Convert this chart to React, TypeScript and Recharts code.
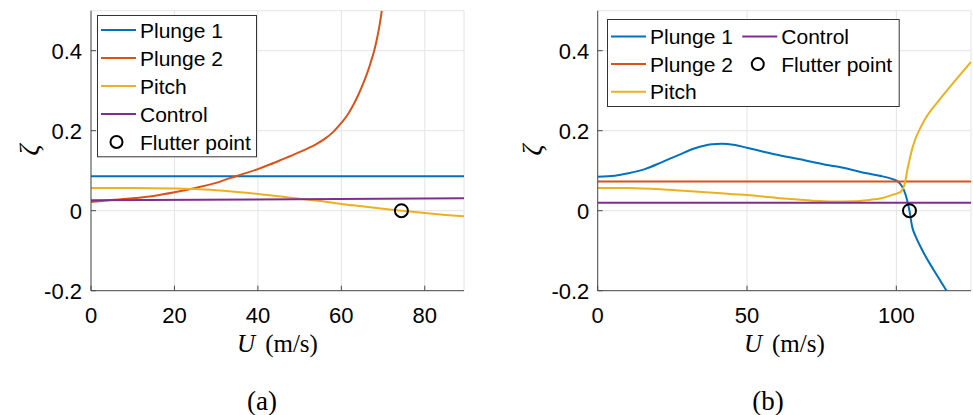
import React from "react";
import {
  ComposedChart,
  Line,
  Scatter,
  XAxis,
  YAxis,
  CartesianGrid,
} from "recharts";

type Pt = [number, number];

// panel (a): damping ratio vs airspeed
const plunge1A: Pt[] = [[0, 0.086], [89.4, 0.086]];
const plunge2A: Pt[] = [
  [0, 0.022], [5, 0.0265], [10, 0.031], [15, 0.037], [20, 0.046], [25, 0.057],
  [30, 0.0695], [33.3, 0.0815], [36.5, 0.092], [40, 0.104], [43, 0.116],
  [46, 0.129], [49.3, 0.1435], [52, 0.156], [54, 0.1665], [56, 0.1795],
  [58, 0.1965], [60, 0.2195], [61.5, 0.24], [62.8, 0.263], [64, 0.288],
  [65.2, 0.317], [66.3, 0.347], [67.2, 0.376], [68, 0.405], [68.7, 0.438],
  [69.2, 0.466], [69.7, 0.5],
];
const pitchA: Pt[] = [
  [0, 0.057], [10, 0.057], [20, 0.0555], [25, 0.054], [30, 0.051], [35, 0.047],
  [40, 0.042], [45, 0.036], [50, 0.03], [55, 0.024], [60, 0.017], [65, 0.011],
  [70, 0.005], [74.4, 0], [80, -0.006], [85, -0.0105], [89.4, -0.014],
];
const controlA: Pt[] = [[0, 0.026], [89.4, 0.031]];
const flutterA: Pt[] = [[74.4, 0]];

// panel (b)
const plunge1B: Pt[] = [
  [0, 0.085], [5.8, 0.0875], [10.3, 0.0935], [15.8, 0.104], [21.4, 0.121],
  [27, 0.139], [32.6, 0.156], [38.2, 0.166], [41.5, 0.1675], [46, 0.164],
  [49.9, 0.1575], [55.5, 0.1475], [60.5, 0.139], [70, 0.125], [77, 0.114],
  [81, 0.109], [88, 0.097], [94, 0.088], [99, 0.0785], [100.5, 0.073],
  [101.7, 0.063], [102.5, 0.052], [103.6, 0.027], [104.4, 0], [105.3, -0.04],
  [106.5, -0.065], [108.1, -0.09], [110, -0.117], [112.5, -0.148], [116.8, -0.2],
];
const plunge2B: Pt[] = [[0, 0.073], [125, 0.073]];
const pitchB: Pt[] = [
  [0, 0.057], [10, 0.0565], [21, 0.0535], [30, 0.049], [40, 0.044], [50, 0.039],
  [60, 0.032], [66, 0.0285], [72, 0.025], [79, 0.023], [85, 0.0235], [91, 0.027],
  [95, 0.031], [98.5, 0.039], [100.5, 0.044], [101.6, 0.048], [102.7, 0.064],
  [103.8, 0.106], [105.5, 0.16], [108.8, 0.218], [114.4, 0.277], [119.9, 0.327],
  [125, 0.372],
];
const controlB: Pt[] = [[0, 0.02], [125, 0.02]];
const flutterB: Pt[] = [[104.4, 0]];

const seriesNames = ["Plunge 1", "Plunge 2", "Pitch", "Control"];
const seriesColors = ["#0072BD", "#D95319", "#EDB120", "#7E2F8E"];
const flutterName = "Flutter point";

const yTicks = [-0.2, 0, 0.2, 0.4];
const xTicksA = [0, 20, 40, 60, 80];
const xTicksB = [0, 50, 100];

const AXIS = "#4a4a4a";
const SANS = "'Liberation Sans', Arial, sans-serif";
const SERIF = "'Liberation Serif', 'Times New Roman', serif";
const tickStyle = { fill: "#000", fontSize: 22, fontFamily: SANS };

const toRows = (pts: Pt[]) => pts.map(([u, z]) => ({ u, z }));
const fmtY = (v: number) => (v === 0 ? "0" : v.toFixed(1));

function FlutterMarker(props: any) {
  const { cx, cy } = props;
  if (cx == null || cy == null) return null;
  return <circle cx={cx} cy={cy} r={6.5} fill="none" stroke="#000" strokeWidth={2} />;
}

interface PanelProps {
  left: number;
  width: number;
  xMax: number;
  xTicks: number[];
  curves: Pt[][];
  flutter: Pt[];
  yAxisWidth: number;
  rightGap: number;
  yTickGap: number;
}

function Panel({ left, width, xMax, xTicks, curves, flutter, yAxisWidth, rightGap, yTickGap }: PanelProps) {
  return (
    <div style={{ position: "absolute", left, top: 0 }}>
      <ComposedChart
        width={width}
        height={340}
        margin={{ top: 10.7, right: rightGap, bottom: 0, left: 0 }}
      >
        <CartesianGrid stroke="#e4e4e4" />
        <XAxis
          dataKey="u"
          type="number"
          domain={[0, xMax]}
          ticks={xTicks}
          interval={0}
          allowDataOverflow
          height={49.3}
          tickSize={-5}
          tickMargin={22}
          stroke={AXIS}
          tick={tickStyle}
        />
        <YAxis
          dataKey="z"
          type="number"
          domain={[-0.2, 0.5]}
          ticks={yTicks}
          interval={0}
          allowDataOverflow
          width={yAxisWidth}
          tickSize={-5}
          tickMargin={yTickGap}
          stroke={AXIS}
          tick={tickStyle}
          tickFormatter={fmtY}
        />
        <XAxis
          xAxisId="top"
          orientation="top"
          type="number"
          domain={[0, xMax]}
          ticks={xTicks}
          interval={0}
          allowDataOverflow
          height={0}
          tickSize={-5}
          tick={false}
          stroke={AXIS}
        />
        <YAxis
          yAxisId="right"
          orientation="right"
          type="number"
          domain={[-0.2, 0.5]}
          ticks={yTicks}
          interval={0}
          allowDataOverflow
          width={0}
          tickSize={-5}
          tick={false}
          stroke={AXIS}
        />
        {curves.map((pts, i) => (
          <Line
            key={seriesNames[i]}
            name={seriesNames[i]}
            data={toRows(pts)}
            dataKey="z"
            type="monotone"
            stroke={seriesColors[i]}
            strokeWidth={2}
            dot={false}
            activeDot={false}
            isAnimationActive={false}
          />
        ))}
        <Scatter
          name={flutterName}
          data={toRows(flutter)}
          dataKey="z"
          shape={FlutterMarker}
          isAnimationActive={false}
        />
      </ComposedChart>
    </div>
  );
}

interface LegendProps {
  x: number;
  y: number;
  w: number;
  h: number;
  perCol: number;
  colStep: number;
  rowStart: number;
  rowStep: number;
}

function LegendBox({ x, y, w, h, perCol, colStep, rowStart, rowStep }: LegendProps) {
  const items = [...seriesNames, flutterName];
  return (
    <svg
      width={w}
      height={h}
      style={{ position: "absolute", left: x, top: y, overflow: "visible" }}
    >
      <rect x={0.5} y={0.5} width={w - 1} height={h - 1} fill="#fff" stroke="#333" strokeWidth={1} />
      {items.map((name, i) => {
        const cx = Math.floor(i / perCol) * colStep;
        const cy = rowStart + (i % perCol) * rowStep;
        const isMarker = i === seriesNames.length;
        return (
          <g key={name}>
            {isMarker ? (
              <circle cx={cx + 19.5} cy={cy} r={6} fill="none" stroke="#000" strokeWidth={2} />
            ) : (
              <line x1={cx + 4} x2={cx + 39} y1={cy} y2={cy} stroke={seriesColors[i]} strokeWidth={2} />
            )}
            <text
              x={cx + 43}
              y={cy}
              dominantBaseline="central"
              fontFamily={SANS}
              fontSize={21}
              fill="#000"
            >
              {name}
            </text>
          </g>
        );
      })}
    </svg>
  );
}

function Centered({ x, y, children, style }: { x: number; y: number; children: React.ReactNode; style?: React.CSSProperties }) {
  return (
    <div
      style={{
        position: "absolute",
        left: x,
        top: y,
        transform: "translate(-50%, -50%)",
        whiteSpace: "nowrap",
        fontFamily: SERIF,
        color: "#000",
        lineHeight: 1,
        ...style,
      }}
    >
      {children}
    </div>
  );
}

function AxisTitle({ x, y }: { x: number; y: number }) {
  return (
    <Centered x={x} y={y} style={{ fontSize: 25 }}>
      <i>U</i>
      <span style={{ marginLeft: 10 }}>(m/s)</span>
    </Centered>
  );
}

export default function App() {
  return (
    <div
      style={{
        position: "absolute",
        left: 0,
        top: 0,
        width: 973,
        height: 415,
        background: "#fff",
        overflow: "hidden",
      }}
    >
      <Panel
        left={0}
        width={480}
        xMax={89.4}
        xTicks={xTicksA}
        curves={[plunge1A, plunge2A, pitchA, controlA]}
        flutter={flutterA}
        yAxisWidth={91}
        rightGap={16}
        yTickGap={14}
      />
      <Panel
        left={480}
        width={493}
        xMax={125}
        xTicks={xTicksB}
        curves={[plunge1B, plunge2B, pitchB, controlB]}
        flutter={flutterB}
        yAxisWidth={117.7}
        rightGap={2}
        yTickGap={13.4}
      />
      <LegendBox x={97.3} y={15} w={160} h={142.3} perCol={5} colStep={0} rowStart={15} rowStep={28} />
      <LegendBox x={607.3} y={19.3} w={292.7} h={88} perCol={3} colStep={131.3} rowStart={17.4} rowStep={27.7} />

      <Centered x={29} y={150} style={{ fontSize: 27, fontStyle: "italic", transform: "translate(-50%, -50%) rotate(-90deg)" }}>
        ζ
      </Centered>
      <Centered x={532} y={150} style={{ fontSize: 27, fontStyle: "italic", transform: "translate(-50%, -50%) rotate(-90deg)" }}>
        ζ
      </Centered>
      <AxisTitle x={277.5} y={343} />
      <AxisTitle x={784.3} y={343} />
      <Centered x={262} y={401} style={{ fontSize: 27 }}>(a)</Centered>
      <Centered x={768} y={401} style={{ fontSize: 27 }}>(b)</Centered>
    </div>
  );
}
